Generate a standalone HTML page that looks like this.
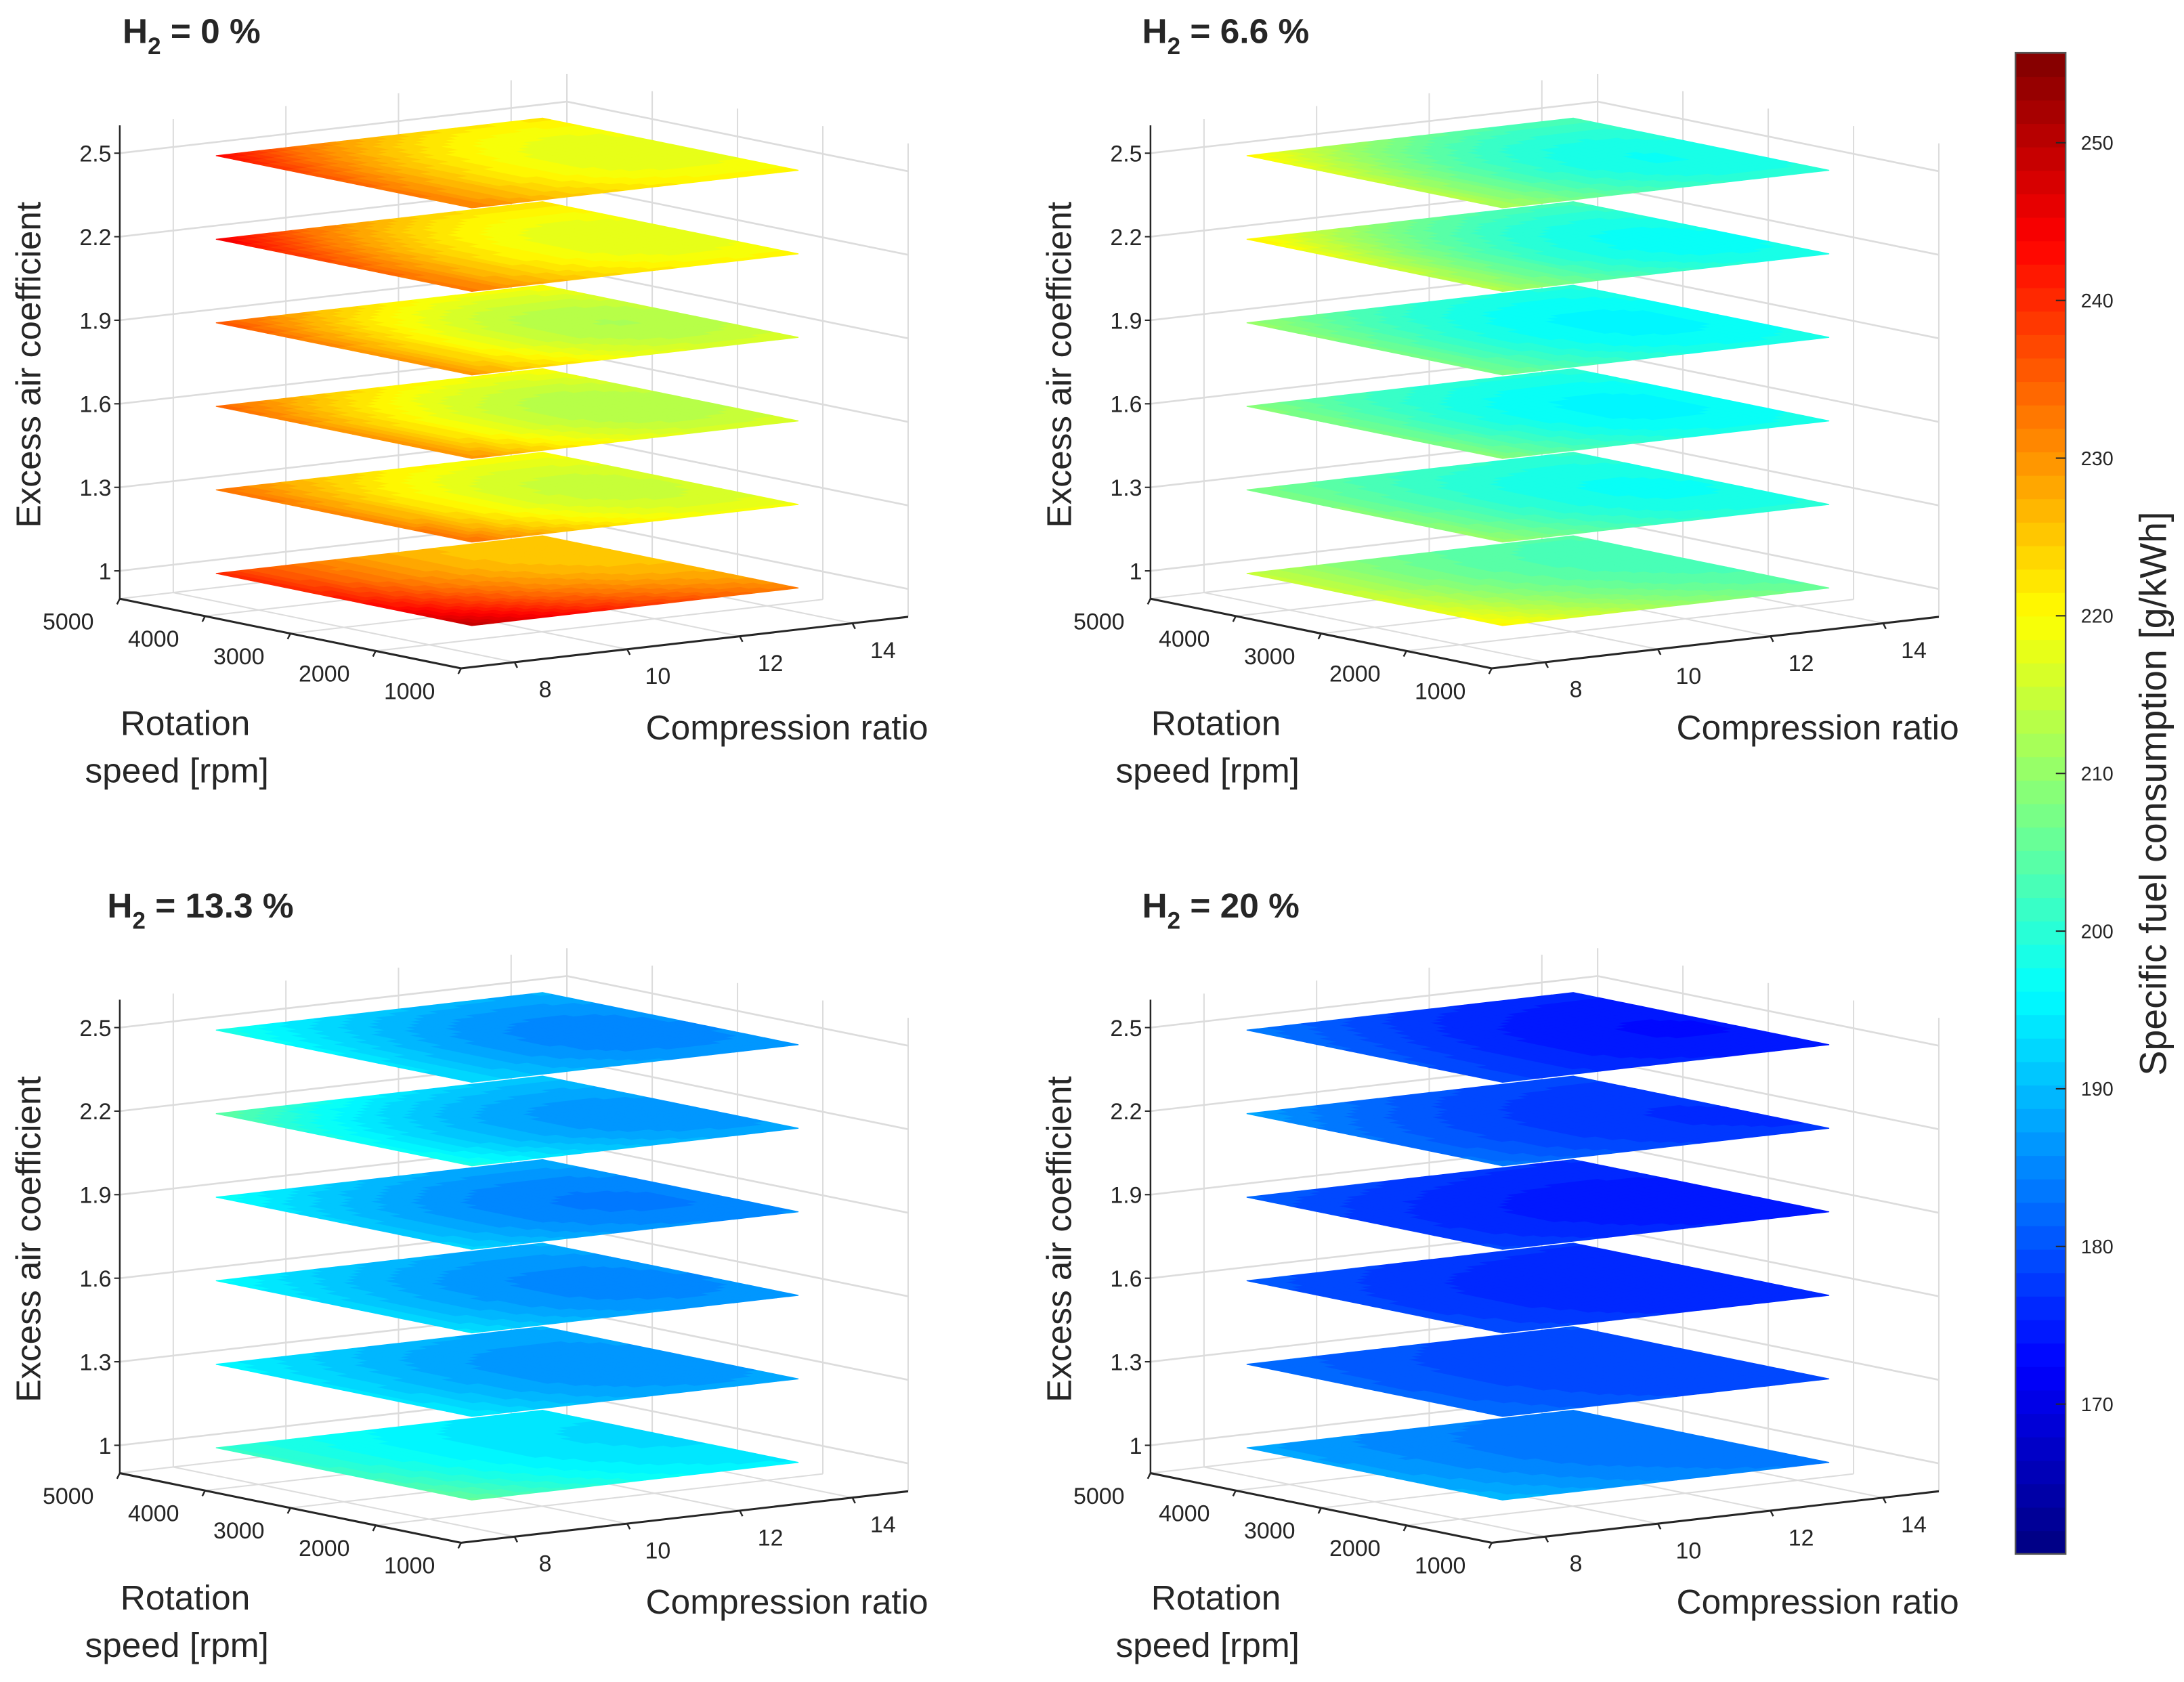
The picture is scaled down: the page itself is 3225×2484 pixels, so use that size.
<!DOCTYPE html>
<html><head><meta charset="utf-8"><style>
html,body{margin:0;padding:0;background:#fff;}
svg{display:block;}
text{font-family:"Liberation Sans",sans-serif;fill:#262626;}
</style></head><body>
<svg id="fig" width="3225" height="2484" viewBox="0 0 1568 1208" preserveAspectRatio="none" xmlns="http://www.w3.org/2000/svg">
<rect x="0" y="0" width="1568" height="1208" fill="#fff"/>
</svg>
<script>
// ---- data ----
const panelTitles = ["0", "6.6", "13.3", "20"];
const lambdaLevels = [1.0, 1.3, 1.6, 1.9, 2.2, 2.5];
const speedGrid = [1500, 3000, 4500];
const crGrid = [8, 10.9, 13.8];
const zTicks = [1, 1.3, 1.6, 1.9, 2.2, 2.5];
const speedTicks = [1000, 2000, 3000, 4000, 5000];
const crTicks = [8, 10, 12, 14];
const cbTicks = [170, 180, 190, 200, 210, 220, 230, 240, 250];
// values[panel][lambdaIdx][speedIdx][crIdx]
const sfcH0 = [
 [[250,240,232],[242,230,226],[240,228,225]],
 [[234,222,219],[232,217,216],[234,222,220]],
 [[231,219,217],[230,215,214],[235,222,220]],
 [[230,219,217],[231,215,214],[237,222,220]],
 [[233,223,221],[236,220,218],[246,227,223]],
 [[232,223,221],[235,220,218],[244,226,222]]
];
const sfcH66 = [
 [[221,212,206],[216,206,203],[215,206,204]],
 [[211,202,200],[209,199,198],[208,202,201]],
 [[209,200,199],[208,197,197],[209,201,200]],
 [[208,200,199],[208,197,197],[211,201,200]],
 [[213,202,199],[216,200,198],[222,207,203]],
 [[213,203,200],[215,200,199],[221,207,203]]
];
const sfcH133 = [
 [[206,198,195],[202,195,193],[201,196,194]],
 [[195,189,188],[194,187,187],[196,190,189]],
 [[194,188,187],[193,186,186],[197,190,189]],
 [[193,187,186],[192,185,185],[198,190,189]],
 [[199,191,188],[198,188,187],[206,195,191]],
 [[193,188,187],[195,186,186],[199,191,189]]
];
const sfcH20 = [
 [[190,186,184],[188,184,183],[188,185,184]],
 [[183,180,179],[182,179,179],[183,180,180]],
 [[180,177,176],[179,176,176],[181,178,177]],
 [[179,176,175],[178,175,175],[182,178,177]],
 [[184,179,177],[183,178,177],[188,181,179]],
 [[179,176,175],[181,175,174],[184,178,176]]
];
const panelValues = [sfcH0, sfcH66, sfcH133, sfcH20];

// ---- layout ----
const NS = "http://www.w3.org/2000/svg";
const svg = document.getElementById('fig');
const offsets = [[0,0],[740,0],[0,628],[740,628]];
const CMIN = 160.5, CMAX = 255.7;
const SPMIN = 1000, SPMAX = 5000, CRMIN = 7.05, CRMAX = 14.99, ZMIN = 0.9, ZMAX = 2.6;

function mk(tag, attrs, parent) {
  const e = document.createElementNS(NS, tag);
  for (const k in attrs) e.setAttribute(k, attrs[k]);
  (parent || svg).appendChild(e);
  return e;
}
function jet(v) {
  let t = (v - CMIN) / (CMAX - CMIN);
  t = Math.max(0, Math.min(1, t));
  t = (Math.min(63, Math.floor(t * 64)) + 0.5) / 64;
  const c = x => Math.round(255 * Math.max(0, Math.min(1, x)));
  return `rgb(${c(1.5 - Math.abs(4*t - 3))},${c(1.5 - Math.abs(4*t - 2))},${c(1.5 - Math.abs(4*t - 1))})`;
}
function proj(sp, cr, z, o) {
  const fs = (sp - SPMIN) / (SPMAX - SPMIN);
  const fc = (cr - CRMIN) / (CRMAX - CRMIN);
  return [331 - 245*fs + 321*fc + o[0], 480 - 50*fs - 37*fc - (z - ZMIN)*200 + o[1]];
}
function lag(x, xs, i) {
  let r = 1;
  for (let j = 0; j < xs.length; j++) if (j !== i) r *= (x - xs[j]) / (xs[i] - xs[j]);
  return r;
}
function interp(g, sp, cr) {
  let v = 0;
  for (let i = 0; i < 3; i++) for (let j = 0; j < 3; j++) v += g[i][j] * lag(sp, speedGrid, i) * lag(cr, crGrid, j);
  return v;
}
function line(p, q, stroke, w, parent) {
  return mk('line', {x1:p[0], y1:p[1], x2:q[0], y2:q[1], stroke:stroke, 'stroke-width':w}, parent);
}

panelValues.forEach((vals, pi) => {
  const o = offsets[pi];
  const g = mk('g', {});
  
  
  const grid = mk('g', {}, g);
  
  
  const GC = '#dcdcdc';
  crTicks.forEach(c => line(proj(SPMAX, c, ZMIN, o), proj(SPMAX, c, ZMAX, o), GC, 1, grid));
  speedTicks.forEach(s => line(proj(s, CRMAX, ZMIN, o), proj(s, CRMAX, ZMAX, o), GC, 1, grid));
  line(proj(SPMAX, CRMAX, ZMIN, o), proj(SPMAX, CRMAX, ZMAX, o), GC, 1, grid);
  zTicks.forEach(z => {
    line(proj(SPMAX, CRMIN, z, o), proj(SPMAX, CRMAX, z, o), GC, 1.3, grid);
    line(proj(SPMAX, CRMAX, z, o), proj(SPMIN, CRMAX, z, o), GC, 1.3, grid);
  });
  speedTicks.forEach(s => line(proj(s, CRMIN, ZMIN, o), proj(s, CRMAX, ZMIN, o), GC, 1, grid));
  crTicks.forEach(c => line(proj(SPMIN, c, ZMIN, o), proj(SPMAX, c, ZMIN, o), GC, 1, grid));

  const N = 30;
  vals.forEach((pg, li) => {
    const z = lambdaLevels[li];
    const pl = mk('g', {}, g);
    
    
    const s0 = speedGrid[0], s1 = speedGrid[2], c0 = crGrid[0], c1 = crGrid[2];
    for (let i = 0; i < N; i++) for (let j = 0; j < N; j++) {
      const sa = s0 + (s1 - s0) * i / N, sb = s0 + (s1 - s0) * (i + 1) / N;
      const ca = c0 + (c1 - c0) * j / N, cb = c0 + (c1 - c0) * (j + 1) / N;
      const v = interp(pg, (sa + sb) / 2, (ca + cb) / 2);
      const col = jet(v);
      const pts = [proj(sa, ca, z, o), proj(sb, ca, z, o), proj(sb, cb, z, o), proj(sa, cb, z, o)];
      mk('polygon', {points: pts.map(p => p[0].toFixed(2) + ',' + p[1].toFixed(2)).join(' '), fill: col, stroke: col, 'stroke-width': 0.6}, pl);
    }
  });

  const ax = mk('g', {}, g);
  
  
  line(proj(SPMAX, CRMIN, ZMIN, o), proj(SPMAX, CRMIN, ZMAX, o), '#262626', 1.2, ax);
  line(proj(SPMAX, CRMIN, ZMIN, o), proj(SPMIN, CRMIN, ZMIN, o), '#262626', 1.5, ax);
  line(proj(SPMIN, CRMIN, ZMIN, o), proj(SPMIN, CRMAX, ZMIN, o), '#262626', 1.5, ax);
  zTicks.forEach(z => {
    const p = proj(SPMAX, CRMIN, z, o);
    line([p[0] - 4, p[1]], p, '#262626', 1, ax);
    const t = mk('text', {x: p[0] - 6, y: p[1] + 6, 'font-size': 16.5, 'text-anchor': 'end'}, ax);
    
    
    t.textContent = String(z);
  });
  speedTicks.forEach(s => {
    const p = proj(s, CRMIN, ZMIN, o);
    line(p, [p[0] - 2, p[1] + 4], '#262626', 1.2, ax);
    const t = mk('text', {x: p[0] - 37, y: p[1] + 22, 'font-size': 16.5, 'text-anchor': 'middle'}, ax);
    
    
    t.textContent = String(s);
  });
  crTicks.forEach(c => {
    const p = proj(SPMIN, c, ZMIN, o);
    line(p, [p[0] + 2, p[1] + 4], '#262626', 1.2, ax);
    const t = mk('text', {x: p[0] + 22, y: p[1] + 25, 'font-size': 16.5, 'text-anchor': 'middle'}, ax);
    
    
    t.textContent = String(c);
  });
  const zl = mk('text', {x: 0, y: 0, 'font-size': 25, 'text-anchor': 'middle', transform: `translate(${29 + o[0]},${262 + o[1]}) rotate(-90)`}, g);
  
  
  zl.textContent = 'Excess air coefficient';
  const r1 = mk('text', {x: 133 + o[0], y: 528 + o[1], 'font-size': 25, 'text-anchor': 'middle'}, g);
  
  
  r1.textContent = 'Rotation';
  const r2 = mk('text', {x: 127 + o[0], y: 562 + o[1], 'font-size': 25, 'text-anchor': 'middle'}, g);
  
  
  r2.textContent = 'speed [rpm]';
  const cx = mk('text', {x: 565 + o[0], y: 531 + o[1], 'font-size': 25, 'text-anchor': 'middle'}, g);
  
  
  cx.textContent = 'Compression ratio';
  const tx = (pi % 2 === 0) ? (pi === 0 ? 88 : 77) : 820;
  const tt = mk('text', {x: tx, y: 31 + o[1], 'font-size': 25, 'font-weight': 'bold'}, g);
  
  
  const a = mk('tspan', {}, tt); a.textContent = 'H';
  const b = mk('tspan', {dy: 8, 'font-size': 17}, tt); b.textContent = '2';
  const c = mk('tspan', {dy: -8}, tt); c.textContent = ' = ' + panelTitles[pi] + ' %';
});

// colorbar
const cb = mk('g', {});


const CBX = 1447, CBW = 36, CBT = 38, CBB = 1116;
for (let k = 0; k < 64; k++) {
  const v0 = CMIN + (CMAX - CMIN) * k / 64;
  const y1 = CBB - (CBB - CBT) * (k + 1) / 64, y0 = CBB - (CBB - CBT) * k / 64;
  mk('rect', {x: CBX, y: y1, width: CBW, height: y0 - y1 + 0.5, fill: jet(v0 + 0.1)}, cb);
}
mk('rect', {x: CBX, y: CBT, width: CBW, height: CBB - CBT, fill: 'none', stroke: '#555', 'stroke-width': 1.2}, cb);
cbTicks.forEach(v => {
  const y = CBB - (v - CMIN) / (CMAX - CMIN) * (CBB - CBT);
  line([CBX + CBW - 7, y], [CBX + CBW, y], '#262626', 1, cb);
  const t = mk('text', {x: 1494, y: y + 5, 'font-size': 14}, cb);
  
  
  t.textContent = String(v);
});
const cl = mk('text', {x: 0, y: 0, 'font-size': 27, 'text-anchor': 'middle', transform: 'translate(1555,570) rotate(-90)'}, cb);


cl.textContent = 'Specific fuel consumption [g/kWh]';
</script>
</body></html>
